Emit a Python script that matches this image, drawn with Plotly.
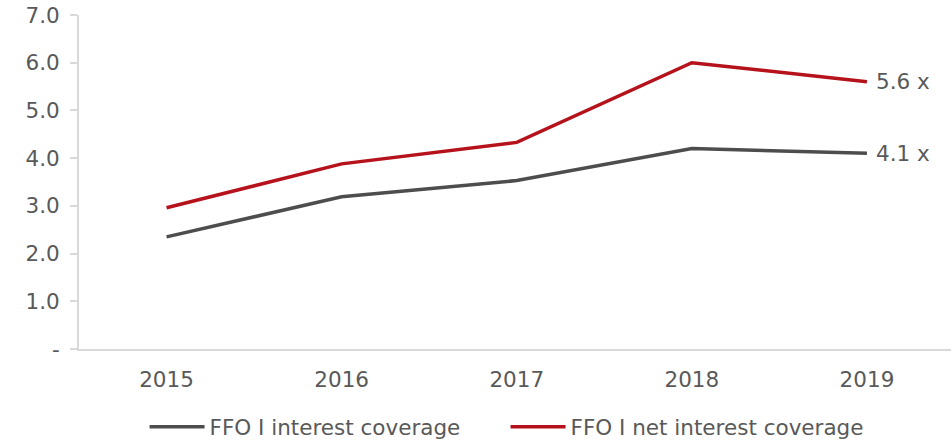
import plotly.graph_objects as go

years = ["2015", "2016", "2017", "2018", "2019"]
ffo_interest = [2.35, 3.19, 3.53, 4.20, 4.10]
ffo_net_interest = [2.96, 3.88, 4.33, 6.00, 5.60]
end_labels = ["4.1 x", "5.6 x"]
y_tickvals = [0, 1, 2, 3, 4, 5, 6, 7]
y_ticktext = ["-", "1.0", "2.0", "3.0", "4.0", "5.0", "6.0", "7.0"]

FONT = "DejaVu Sans"
GRAY = "#4d4d4d"
RED = "#b5121b"
TXT = "#595959"
FS = 21.5

fig = go.Figure()
fig.add_trace(go.Scatter(x=years, y=ffo_interest, mode="lines", name="FFO I interest coverage",
                         line=dict(color=GRAY, width=3.5)))
fig.add_trace(go.Scatter(x=years, y=ffo_net_interest, mode="lines", name="FFO I net interest coverage",
                         line=dict(color=RED, width=3.5)))

fig.add_annotation(x=4, y=ffo_interest[-1], xref="x", yref="y", text=end_labels[0], showarrow=False,
                   xanchor="left", yanchor="middle", xshift=7, font=dict(family=FONT, size=FS, color=TXT))
fig.add_annotation(x=4, y=ffo_net_interest[-1], xref="x", yref="y", text=end_labels[1], showarrow=False,
                   xanchor="left", yanchor="middle", xshift=7, font=dict(family=FONT, size=FS, color=TXT))

fig.update_layout(
    width=951, height=440,
    margin=dict(l=79, r=0, t=15, b=91, autoexpand=False),
    plot_bgcolor="white", paper_bgcolor="white",
    font=dict(family=FONT, size=FS, color=TXT),
    showlegend=True,
    legend=dict(orientation="h", x=0.152, xanchor="left", xref="container",
                y=0.03, yanchor="middle", yref="container",
                font=dict(family=FONT, size=FS, color=TXT), itemwidth=55,
                entrywidth=291, entrywidthmode="pixels",
                tracegroupgap=0),
    xaxis=dict(type="category", range=[-0.5, 4.48], showgrid=False, showline=True, automargin=False,
               linecolor="#d9d9d9", linewidth=2, ticks="", ticklabelstandoff=10,
               tickfont=dict(family=FONT, size=FS, color=TXT)),
    yaxis=dict(range=[0, 7], tickvals=y_tickvals, ticktext=y_ticktext, showgrid=False, automargin=False,
               zeroline=False, showline=True, linecolor="#d9d9d9", linewidth=2,
               ticks="outside", ticklen=7, tickcolor="#d9d9d9", tickwidth=2, ticklabelstandoff=6,
               tickfont=dict(family=FONT, size=FS, color=TXT)),
)

fig.write_html("out.html", config={"displayModeBar": False},
               post_script="document.body.style.margin='0px';")
